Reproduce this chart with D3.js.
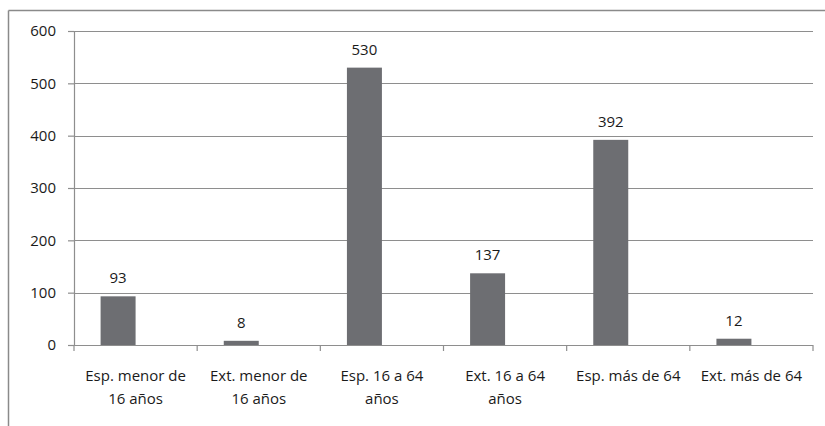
<!DOCTYPE html>
<html>
<head>
<meta charset="utf-8">
<script src="https://cdn.jsdelivr.net/npm/d3@7"></script>
<style>
  html, body { margin: 0; padding: 0; background: #fff; }
  svg { display: block; }
  text { font-family: "Open Sans", Lato, sans-serif; fill: #1a1a1a; }
</style>
</head>
<body>
<svg id="chart" width="825" height="426"></svg>
<script>
// Población por grupo de edad y nacionalidad
const categories = [
  "Esp. menor de 16 años",
  "Ext. menor de 16 años",
  "Esp. 16 a 64 años",
  "Ext. 16 a 64 años",
  "Esp. más de 64",
  "Ext. más de 64"
];
const values = [93, 8, 530, 137, 392, 12];
const yTicks = [0, 100, 200, 300, 400, 500, 600];
// second slot of each category is an empty series (kept for bar placement)
const seriesKeys = ["valor", "vacío"];

const FONT = "'Open Sans', Lato, sans-serif";
const FS = 15;

const svg = d3.select("#chart");
const W = 825, H = 426;
const margin = { left: 74, right: 12, top: 31, bottom: 81 };
const plotW = W - margin.left - margin.right;
const plotH = H - margin.top - margin.bottom;

const gridColor = "#8e8e8e";
const barColor = "#6d6e72";

// outer chart frame (top and left edges visible)
svg.append("line").attr("x1", 8.5).attr("x2", W).attr("y1", 10.5).attr("y2", 10.5)
  .attr("stroke", "#8a8a8a").attr("stroke-width", 1.5);
svg.append("line").attr("x1", 8.5).attr("x2", 8.5).attr("y1", 10.5).attr("y2", H)
  .attr("stroke", "#8a8a8a").attr("stroke-width", 1.5);

const g = svg.append("g").attr("transform", `translate(${margin.left},${margin.top})`);

const x0 = d3.scaleBand().domain(categories).range([0, plotW]).paddingInner(0).paddingOuter(0);
const x1 = d3.scaleBand().domain(seriesKeys).range([0, x0.bandwidth()]).paddingInner(0).paddingOuter(0.76);
const y = d3.scaleLinear().domain([0, 600]).range([plotH, 0]);

// horizontal gridlines
g.append("g").selectAll("line").data(yTicks.filter(t => t > 0)).join("line")
  .attr("x1", 0).attr("x2", plotW)
  .attr("y1", d => Math.round(y(d)) + 0.5).attr("y2", d => Math.round(y(d)) + 0.5)
  .attr("stroke", gridColor).attr("stroke-width", 1.2);

// y axis
const yAxis = g.append("g").call(
  d3.axisLeft(y).tickValues(yTicks).tickSize(6).tickPadding(12).tickFormat(d3.format("d"))
);
yAxis.select(".domain").attr("stroke", gridColor).attr("stroke-width", 1.2);
yAxis.selectAll(".tick line").attr("stroke", gridColor).attr("stroke-width", 1.2);
yAxis.selectAll(".tick text").attr("font-size", FS).style("font-family", FONT).attr("fill", "#1a1a1a");

// bars
g.append("g").selectAll("rect").data(values).join("rect")
  .attr("x", (d, i) => x0(categories[i]) + x1("valor"))
  .attr("width", x1.bandwidth())
  .attr("y", d => y(d))
  .attr("height", d => y(0) - y(d))
  .attr("fill", barColor);

// value labels
g.append("g").selectAll("text").data(values).join("text")
  .attr("x", (d, i) => x0(categories[i]) + x1("valor") + x1.bandwidth() / 2)
  .attr("y", d => y(d) - 13)
  .attr("text-anchor", "middle")
  .attr("font-size", FS)
  .text(d => d);

// x axis with category boundary ticks
const boundaries = d3.range(categories.length + 1).map(i => i * x0.step());
const xAxisG = g.append("g").attr("transform", `translate(0,${plotH})`);
xAxisG.append("line").attr("x1", 0).attr("x2", plotW).attr("y1", 0.5).attr("y2", 0.5)
  .attr("stroke", gridColor).attr("stroke-width", 1.2);
xAxisG.selectAll("line.tk").data(boundaries).join("line").attr("class", "tk")
  .attr("x1", d => d).attr("x2", d => d).attr("y1", 0).attr("y2", 6)
  .attr("stroke", gridColor).attr("stroke-width", 1.2);

// category labels, wrapped to the category width
const maxW = x0.bandwidth() - 8;
xAxisG.selectAll("text.cat").data(categories).join("text").attr("class", "cat")
  .attr("text-anchor", "middle")
  .attr("font-size", FS)
  .attr("transform", d => `translate(${x0(d) + x0.bandwidth() / 2},36)`)
  .each(function (d) {
    const t = d3.select(this);
    const words = d.split(" ");
    const lines = [];
    let cur = [];
    const probe = t.append("tspan");
    for (const w of words) {
      const trial = cur.concat(w).join(" ");
      probe.text(trial);
      if (probe.node().getComputedTextLength() > maxW && cur.length) {
        lines.push(cur.join(" "));
        cur = [w];
      } else {
        cur.push(w);
      }
    }
    lines.push(cur.join(" "));
    probe.remove();
    lines.forEach((ln, i) => {
      t.append("tspan").attr("x", 0).attr("y", i * 23).text(ln);
    });
  });
</script>
</body>
</html>
